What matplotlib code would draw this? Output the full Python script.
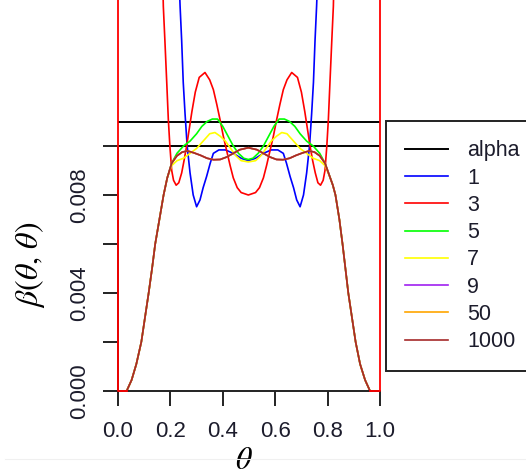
import matplotlib
matplotlib.use("Agg")
import matplotlib.pyplot as plt
from matplotlib.lines import Line2D

plt.rcParams["font.family"] = ["Liberation Sans", "DejaVu Sans"]
plt.rcParams["mathtext.fontset"] = "stix"

# shared rising / falling flanks (all series coincide there)
edge_left_x = [0.033, 0.052, 0.070, 0.089, 0.103, 0.117, 0.130, 0.142, 0.158, 0.174, 0.188]
edge_left_y = [0.0, 0.00045, 0.0011, 0.0020, 0.0030, 0.0040, 0.0050, 0.0060, 0.0070, 0.0080, 0.0087]
edge_right_x = [0.81, 0.82, 0.83, 0.845, 0.857, 0.868, 0.879, 0.893, 0.907, 0.924, 0.943, 0.962]
edge_right_y = [0.0087, 0.0084, 0.0080, 0.0070, 0.0060, 0.0050, 0.0040, 0.0030, 0.0020, 0.0011, 0.00045, 0.0]

# red support line at theta = 0 and theta = 1
support_x = [0.0, 0.0, 0.033, float("nan"), 0.962, 1.0, 1.0]
support_y = [0.03, 0.0, 0.0, float("nan"), 0.0, 0.0, 0.03]

alpha_levels = [0.010, 0.011]

blue_x = [0.215, 0.237, 0.243, 0.249, 0.256, 0.264, 0.275, 0.287, 0.30, 0.313,
          0.325, 0.338, 0.352, 0.364, 0.385, 0.41, 0.44, 0.47, 0.4975, 0.525,
          0.555, 0.585, 0.61, 0.631, 0.643, 0.657, 0.67, 0.682, 0.695, 0.708,
          0.72, 0.731, 0.739, 0.746, 0.752, 0.758, 0.78]
blue_y = [0.0220, 0.0157, 0.0143, 0.0126, 0.0113, 0.0100, 0.0089, 0.0080, 0.00752, 0.0078,
          0.0083, 0.00875, 0.0093, 0.0097, 0.00984, 0.00984, 0.0097, 0.0095, 0.0094, 0.0095,
          0.0097, 0.00984, 0.00984, 0.0097, 0.0093, 0.00875, 0.0083, 0.0078, 0.00752, 0.0080,
          0.0089, 0.0100, 0.0113, 0.0126, 0.0143, 0.0157, 0.0220]

red_x = [0.160, 0.173, 0.179, 0.186, 0.192, 0.198, 0.205, 0.212, 0.222, 0.232,
         0.243, 0.252, 0.262, 0.272, 0.282, 0.295, 0.31, 0.332, 0.35, 0.364,
         0.377, 0.389, 0.402, 0.415, 0.428, 0.44, 0.455, 0.47, 0.4975, 0.525,
         0.54, 0.555, 0.567, 0.58, 0.593, 0.606, 0.618, 0.631, 0.645, 0.663,
         0.685, 0.700, 0.713, 0.723, 0.733, 0.743, 0.753, 0.763, 0.773, 0.783,
         0.790, 0.797, 0.803, 0.809, 0.816, 0.822, 0.835]
red_y = [0.0220, 0.0157, 0.0143, 0.0126, 0.0111, 0.0100, 0.0090, 0.0086, 0.0084, 0.0085,
         0.0089, 0.0094, 0.0100, 0.0107, 0.0114, 0.0122, 0.0128, 0.0130, 0.0127, 0.0123,
         0.0117, 0.0111, 0.0104, 0.0098, 0.0092, 0.0087, 0.0083, 0.0081, 0.0080, 0.0081,
         0.0083, 0.0087, 0.0092, 0.0098, 0.0104, 0.0111, 0.0117, 0.0123, 0.0127, 0.0130,
         0.0128, 0.0122, 0.0114, 0.0107, 0.0100, 0.0094, 0.0089, 0.0085, 0.0084, 0.0086,
         0.0090, 0.0100, 0.0111, 0.0126, 0.0143, 0.0157, 0.0220]

green_x = [0.205, 0.225, 0.25, 0.275, 0.30, 0.32, 0.34, 0.36, 0.38, 0.40,
           0.42, 0.44, 0.46, 0.48, 0.4975, 0.515, 0.535, 0.555, 0.575, 0.595,
           0.615, 0.635, 0.655, 0.675, 0.695, 0.72, 0.745, 0.77, 0.79]
green_y = [0.0093, 0.0097, 0.0100, 0.0102, 0.0105, 0.0108, 0.0110, 0.0111, 0.0111, 0.0108,
           0.0104, 0.0100, 0.0097, 0.0095, 0.00945, 0.0095, 0.0097, 0.0100, 0.0104, 0.0108,
           0.0111, 0.0111, 0.0110, 0.0108, 0.0105, 0.0102, 0.0100, 0.0097, 0.0093]

yellow_x = [0.205, 0.225, 0.25, 0.275, 0.30, 0.325, 0.35, 0.37, 0.39, 0.41,
            0.43, 0.45, 0.47, 0.4975, 0.525, 0.545, 0.565, 0.585, 0.605, 0.625,
            0.645, 0.67, 0.695, 0.72, 0.745, 0.77, 0.79]
yellow_y = [0.0092, 0.0094, 0.0095, 0.0097, 0.0099, 0.0102, 0.0105, 0.01055, 0.0104, 0.0102,
            0.0099, 0.0096, 0.0094, 0.00935, 0.0094, 0.0096, 0.0099, 0.0102, 0.0104, 0.01055,
            0.0105, 0.0102, 0.0099, 0.0097, 0.0095, 0.0094, 0.0092]

# 9, 50 and 1000 are indistinguishable in the picture
plateau_x = [0.205, 0.225, 0.245, 0.265, 0.29, 0.315, 0.34, 0.365, 0.39, 0.415,
             0.44, 0.465, 0.4975, 0.53, 0.555, 0.58, 0.605, 0.63, 0.655, 0.68,
             0.705, 0.73, 0.75, 0.77, 0.79]
plateau_y = [0.0093, 0.0096, 0.00975, 0.0098, 0.00972, 0.00962, 0.0095, 0.00944, 0.00945, 0.00955,
             0.0097, 0.00985, 0.00993, 0.00985, 0.0097, 0.00955, 0.00945, 0.00944, 0.0095, 0.00962,
             0.00972, 0.0098, 0.00975, 0.0096, 0.0093]

series_labels = ["1", "3", "5", "7", "9", "50", "1000"]
series_colors = ["#0000ff", "#ff0000", "#00ff00", "#ffff00", "#a020f0", "#ffa500", "#a52a2a"]

x_ticks = [0.0, 0.2, 0.4, 0.6, 0.8, 1.0]
x_tick_labels = ["0.0", "0.2", "0.4", "0.6", "0.8", "1.0"]
y_ticks = [0.000, 0.002, 0.004, 0.006, 0.008, 0.010]
y_tick_labels = ["0.000", "", "0.004", "", "0.008", ""]


def with_edges(mid_x, mid_y):
    return edge_left_x + mid_x + edge_right_x, edge_left_y + mid_y + edge_right_y


def build_series():
    return [
        (blue_x, blue_y),
        (red_x, red_y),
        with_edges(green_x, green_y),
        with_edges(yellow_x, yellow_y),
        with_edges(plateau_x, plateau_y),
        with_edges(plateau_x, plateau_y),
        with_edges(plateau_x, plateau_y),
    ]


fig = plt.figure(figsize=(5.26, 4.75), dpi=100)
ax = fig.add_axes([118 / 526, 84 / 475, 262 / 526, 391 / 475])

for level in alpha_levels:
    ax.axhline(level, color="black", lw=1.4, zorder=1)

handles = [Line2D([], [], color="black", lw=1.4)]
for (xs, ys), color in zip(build_series(), series_colors):
    line, = ax.plot(xs, ys, color=color, lw=1.2, zorder=2)
    handles.append(line)

ax.plot(support_x, support_y, color="#ff0000", lw=1.3, zorder=3, clip_on=False)

ax.set_xlim(0, 1)
ax.set_ylim(0, 391 * 0.002 / 49)

for side in ["top", "right"]:
    ax.spines[side].set_visible(False)
ax.spines["left"].set_bounds(0, 0.010)
ax.spines["bottom"].set_bounds(0, 1)
for side in ["left", "bottom"]:
    ax.spines[side].set_linewidth(1.4)
    ax.spines[side].set_color("#222222")

ax.set_xticks(x_ticks)
ax.set_xticklabels(x_tick_labels)
ax.set_yticks(y_ticks)
ax.set_yticklabels(y_tick_labels, rotation=90, va="center")
ax.tick_params(axis="both", direction="out", length=11, width=1.4, color="#222222",
               labelsize=16, labelcolor="#1c1c2c")
ax.tick_params(axis="x", pad=10.5)
ax.tick_params(axis="y", pad=9)

ax.set_xlabel(r"$\theta$", fontsize=23, va="center")
ax.xaxis.set_label_coords((244 - 118) / 262, -(461 - 391) / 391)
ax.set_ylabel(r"$\beta(\theta,\,\theta)$", fontsize=23, va="center")
ax.yaxis.set_label_coords(-(118 - 30) / 262, (391 - 265) / 391)

leg = ax.legend(handles, ["alpha"] + series_labels, loc="upper left",
                bbox_to_anchor=(386 / 526, 354 / 475), bbox_transform=fig.transFigure,
                borderaxespad=0, fancybox=False, framealpha=1, edgecolor="#222222",
                fontsize=15.5, handlelength=2.0, handletextpad=0.88, borderpad=0.9,
                labelspacing=0.29)
leg.get_frame().set_linewidth(1.4)
for text in leg.get_texts():
    text.set_color("#1c1c2c")

fig.add_artist(Line2D([5 / 526, 1], [16 / 475, 16 / 475], color="#f0f0f0", lw=0.8))

fig.savefig("out.png", dpi=100)
